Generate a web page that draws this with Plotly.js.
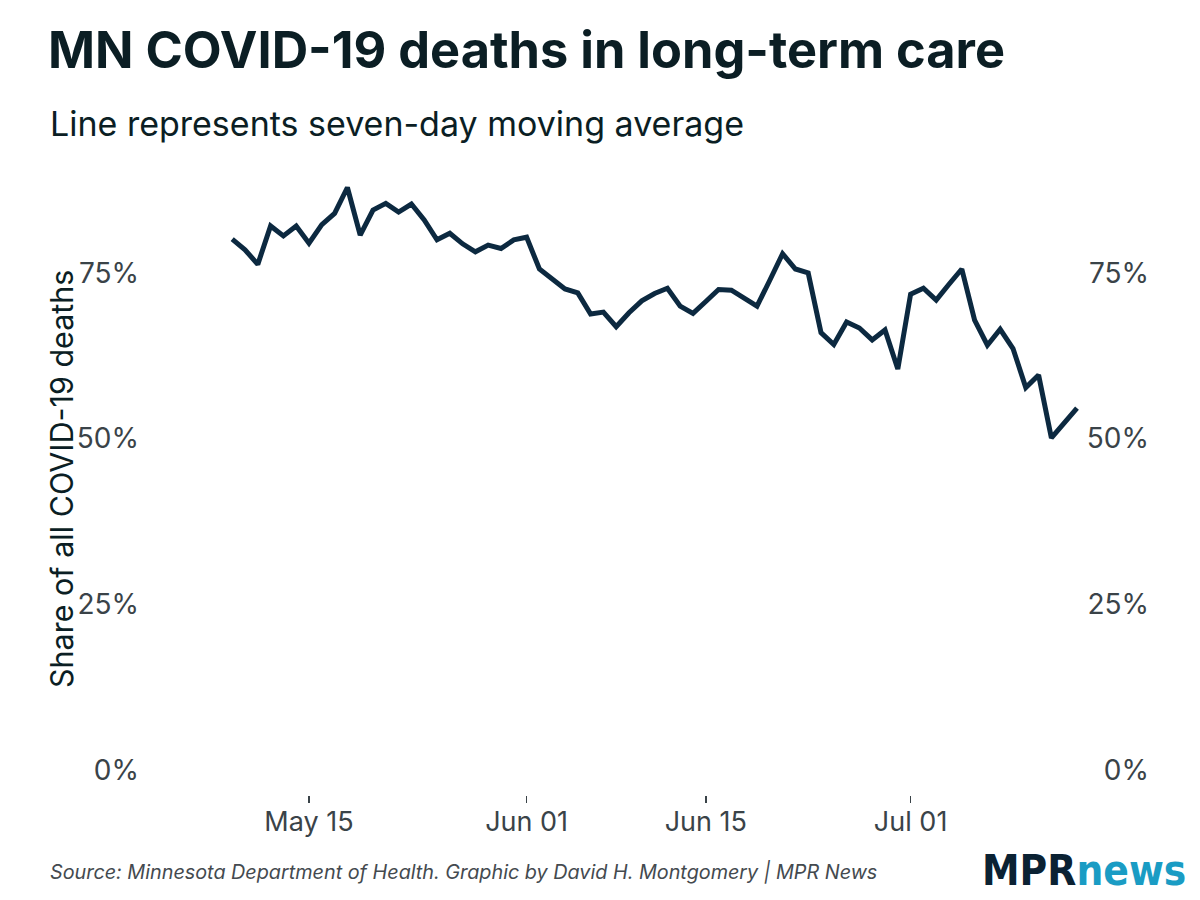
<!DOCTYPE html>
<html>
<head>
<meta charset="utf-8">
<script src="https://cdn.plot.ly/plotly-3.0.1.min.js"></script>
<style>
  html, body { margin: 0; padding: 0; background: #ffffff; }
  #chart { width: 1200px; height: 900px; }
</style>
</head>
<body>
<div id="chart"></div>
<script>
// ---- Data ----
const startDate = "2020-05-09";   // first day of the series (daily data)
const shareValues = [
  80.1, 78.5, 76.3, 82.1, 80.6, 82.1, 79.5, 82.3, 84.0, 87.9,
  80.7, 84.5, 85.5, 84.2, 85.4, 83.0, 80.0, 81.0, 79.4, 78.2,
  79.2, 78.7, 80.0, 80.4, 75.6, 74.1, 72.6, 72.0, 68.8, 69.1,
  66.9, 69.0, 70.8, 71.9, 72.7, 70.0, 68.9, 70.7, 72.5, 72.4,
  71.2, 70.0, 73.9, 77.9, 75.6, 75.0, 66.0, 64.2, 67.6, 66.7,
  64.9, 66.4, 60.5, 71.8, 72.7, 70.9, 73.3, 75.6, 67.9, 64.1,
  66.5, 63.6, 57.7, 59.6, 50.1, 52.4, 54.6
];
const xTickDates = ["2020-05-15", "2020-06-01", "2020-06-15", "2020-07-01"];
const xTickLabels = ["May 15", "Jun 01", "Jun 15", "Jul 01"];
const yTickValues = [0, 25, 50, 75];
const yTickLabels = ["0%", "25%", "50%", "75%"];

// ---- Build dates ----
const DAY = 86400000;
const t0 = Date.parse(startDate + "T00:00:00Z");
function iso(ms) { return new Date(ms).toISOString().slice(0, 19).replace("T", " "); }
const dates = shareValues.map((v, i) => iso(t0 + i * DAY));

// ---- Layout geometry ----
const W = 1200, H = 900;
const L = 140, R = 1152, T = 170, B = 795;
const refMs = Date.parse("2020-05-15T00:00:00Z");
const refPx = 309, pxPerDay = 12.8;
const xr = [iso(refMs + (L - refPx) / pxPerDay * DAY), iso(refMs + (R - refPx) / pxPerDay * DAY)];
const zeroPx = 770, pxPerPct = 6.627;
const yr = [(zeroPx - B) / pxPerPct, (zeroPx - T) / pxPerPct];
const px2paperX = p => (p - L) / (R - L);
const px2paperY = p => (B - p) / (B - T);

const FONT = "Inter, 'Noto Sans', 'DejaVu Sans', sans-serif";
const tickFont = { family: FONT, size: 28, color: "#3a4348" };
const xTickFont = { family: FONT, size: 27, color: "#3a4348" };

const traces = [
  {
    x: dates, y: shareValues, type: "scatter", mode: "lines",
    line: { color: "#0c2940", width: 5, shape: "linear" },
    hoverinfo: "x+y", showlegend: false
  },
  {
    x: dates, y: shareValues, type: "scatter", mode: "lines", yaxis: "y2",
    line: { color: "rgba(0,0,0,0)", width: 0 },
    hoverinfo: "skip", showlegend: false
  }
];

const layout = {
  width: W, height: H,
  paper_bgcolor: "#ffffff", plot_bgcolor: "#ffffff",
  margin: { l: L, r: W - R, t: T, b: H - B, pad: 0 },
  title: {
    text: "<b>MN COVID-19 deaths in long-term care</b>",
    font: { family: FONT, size: 50.5, color: "#0b1e24" },
    xref: "container", yref: "container",
    x: 48 / W, xanchor: "left",
    y: 1 - 50 / H, yanchor: "middle"
  },
  xaxis: {
    type: "date", range: xr,
    tickvals: xTickDates, ticktext: xTickLabels,
    ticks: "outside", ticklen: 7, tickwidth: 1.5, tickcolor: "#3a4348",
    tickfont: xTickFont, ticklabelstandoff: -4,
    showgrid: false, zeroline: false, showline: false,
    fixedrange: true
  },
  yaxis: {
    range: yr, tickvals: yTickValues, ticktext: yTickLabels,
    tickfont: tickFont, ticks: "",
    showgrid: false, zeroline: false, showline: false,
    fixedrange: true
  },
  // right-hand copy of the scale, labels right-aligned as in the reference
  yaxis2: {
    range: yr, tickvals: yTickValues, ticktext: yTickLabels,
    tickfont: tickFont, ticks: "",
    overlaying: "y", side: "left", anchor: "free",
    position: px2paperX(1149),
    showgrid: false, zeroline: false, showline: false,
    fixedrange: true
  },
  annotations: [
    {
      text: "Line represents seven-day moving average",
      xref: "paper", yref: "paper",
      x: px2paperX(48), y: px2paperY(123),
      xanchor: "left", yanchor: "middle", showarrow: false,
      font: { family: FONT, size: 34, color: "#0b1e24" }
    },
    {
      text: "Share of all COVID-19 deaths",
      xref: "paper", yref: "paper",
      x: px2paperX(62), y: px2paperY(479),
      xanchor: "center", yanchor: "middle", showarrow: false, textangle: -90,
      font: { family: FONT, size: 30.5, color: "#0b1e24" }
    },
    {
      text: "<i>Source: Minnesota Department of Health. Graphic by David H. Montgomery | MPR News</i>",
      xref: "paper", yref: "paper",
      x: px2paperX(48), y: px2paperY(872),
      xanchor: "left", yanchor: "middle", showarrow: false,
      font: { family: FONT, size: 19.8, color: "#444a4f" }
    },
    {
      text: "<b><span style='color:#0b2233'>MPR</span><span style='color:#1a9cc4'>news</span></b>",
      xref: "paper", yref: "paper",
      x: px2paperX(1188), y: px2paperY(870),
      xanchor: "right", yanchor: "middle", showarrow: false,
      font: { family: "'DejaVu Sans Condensed', 'Liberation Sans Narrow', Roboto, sans-serif", size: 42, color: "#0b2233" }
    }
  ]
};

Plotly.newPlot("chart", traces, layout, { displayModeBar: false, staticPlot: true });
</script>
</body>
</html>
